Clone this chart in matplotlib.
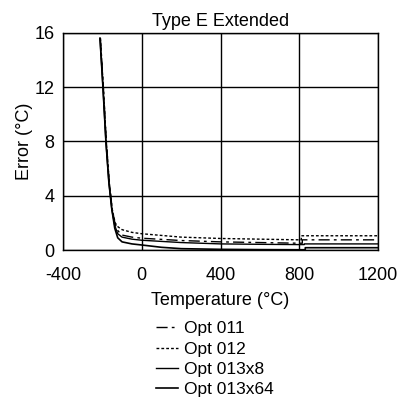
import matplotlib
matplotlib.use("Agg")
import matplotlib.pyplot as plt

plt.rcParams['font.family'] = ["Liberation Sans", "DejaVu Sans"]
plt.rcParams['axes.unicode_minus'] = False

title = "Type E Extended"
xlabel = "Temperature (°C)"
ylabel = "Error (°C)"
xticks = [-400, 0, 400, 800, 1200]
yticks = [0, 4, 8, 12, 16]

t_011 = [-210, -195, -180, -165, -150, -135, -120, -100, -50, 0, 200, 400, 600, 800, 815, 815, 1200]
e_011 = [15.6, 12.0, 8.0, 5.0, 3.0, 1.9, 1.4, 1.1, 0.95, 0.87, 0.7, 0.6, 0.55, 0.5, 0.5, 0.75, 0.75]
t_012 = [-210, -195, -180, -165, -150, -135, -120, -100, -50, 0, 200, 400, 600, 800, 810, 810, 1200]
e_012 = [15.6, 12.0, 8.0, 5.0, 3.0, 2.0, 1.7, 1.5, 1.3, 1.2, 0.95, 0.85, 0.8, 0.75, 0.75, 1.05, 1.05]
t_013x8 = [-212, -197, -182, -167, -152, -137, -122, -100, -50, 0, 200, 400, 600, 800, 825, 825, 1200]
e_013x8 = [15.6, 12.0, 8.0, 5.0, 3.0, 1.8, 1.2, 0.95, 0.8, 0.72, 0.55, 0.45, 0.42, 0.4, 0.4, 0.45, 0.45]
t_013x64 = [-212, -197, -182, -167, -152, -137, -122, -100, -50, 0, 100, 200, 400, 600, 800, 830, 830, 1200]
e_013x64 = [15.6, 12.0, 8.0, 5.0, 3.0, 1.6, 0.9, 0.6, 0.45, 0.37, 0.2, 0.1, 0.05, 0.03, 0.02, 0.02, 0.17, 0.17]

fig = plt.figure(figsize=(4.01, 4.16), dpi=100)
ax = fig.add_axes([0.157, 0.399, 0.786, 0.522])
ax.plot(t_011, e_011, color="black", lw=1.0, linestyle=(0, (8, 3, 2, 3)), label="Opt 011")
ax.plot(t_012, e_012, color="black", lw=1.0, linestyle=(0, (2, 1.5)), label="Opt 012")
ax.plot(t_013x8, e_013x8, color="black", lw=1.0, label="Opt 013x8")
ax.plot(t_013x64, e_013x64, color="black", lw=1.2, label="Opt 013x64")

ax.set_xlim(-400, 1200)
ax.set_ylim(0, 16)
ax.set_xticks(xticks)
ax.set_yticks(yticks)
ax.grid(True, color="black", lw=1.0)
ax.set_axisbelow(True)
for s in ax.spines.values():
    s.set_linewidth(1.0)
ax.tick_params(axis="x", length=0, labelsize=13, pad=12)
ax.tick_params(axis="y", length=0, labelsize=13, pad=6)
ax.set_title(title, fontsize=13, pad=5)
ax.set_xlabel(xlabel, fontsize=13, labelpad=6)
ax.set_ylabel(ylabel, fontsize=13, labelpad=1)

leg = fig.legend(loc="upper center", bbox_to_anchor=(0.535, 0.257), frameon=False,
                 fontsize=12.5, handlelength=1.3, handletextpad=0.3, labelspacing=0.3,
                 borderpad=0.2)
fig.savefig("out.png", dpi=100)
